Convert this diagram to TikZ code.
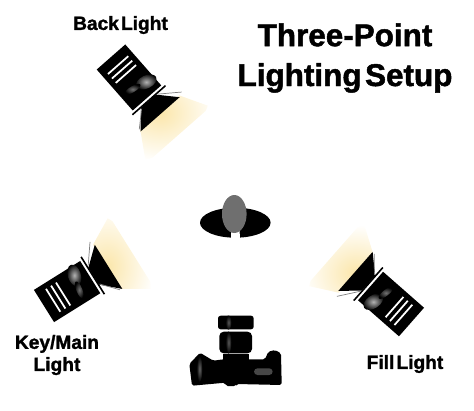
\documentclass[tikz,border=0pt]{standalone}
\usepackage{fontspec}
\setmainfont[WordSpace=0.4, BoldFeatures={FakeBold=1.5}]{Liberation Sans}
\usepackage{xcolor}
\definecolor{glowyellow}{HTML}{FBE6AA}
\definecolor{headgray}{HTML}{6F6F6F}
\tikzset{
  lamplabel/.style={font=\bfseries\fontsize{10.9}{12.6}\selectfont, align=center, text=black},
  titletext/.style={font=\bfseries\fontsize{17.9}{22.7}\selectfont, align=center, text=black},
  stripe/.style={draw=white, line width=1pt},
  doorline/.style={draw=gray, line width=0.4pt},
}
% one lamp, drawn along its own x axis from the back of the housing
\newcommand{\drawlamp}[3]{
  \begin{scope}[shift={(#1,#2)}, rotate=#3]
    % glow
    \begin{scope}
      \clip (74,-26) -- (103,-44) -- (103,42) -- (74,26) -- cycle;
      \shade[inner color=glowyellow, outer color=white] (74,0) ellipse (36 and 60);
    \end{scope}
    % housing
    \fill[black] (0,-19) rectangle (54.5,19);
    \shade[rotate around={-15:(42,10)}, inner color=black!30, outer color=black] (42,10) ellipse (6.5 and 11);
    \shade[rotate around={-10:(38.5,-5)}, inner color=black!55, outer color=black] (38.5,-5) ellipse (3 and 9);
    \foreach \u in {10.8,16.8,22.6} {
      \draw[stripe] (\u,-13.5) -- (\u,13.5);
    }
    % plate and doors
    \draw[black, line width=0.9pt] (57.5,-22) -- (57.5,22);
    \fill[black] (58,-11) -- (75.5,-27) -- (75.5,25) -- (58,9) -- cycle;
    \draw[doorline] (59,11) -- (73,30);
    \draw[doorline] (59,-11) -- (73,-26.5);
  \end{scope}
}
\begin{document}
\begin{tikzpicture}[x=0.02cm, y=0.02cm]
  \useasboundingbox (0,0) rectangle (474,-410);
  % title and labels
  \node[titletext] (title) at (345,-58) {Three-Point\\Lighting Setup};
  \node[lamplabel] (backlabel) at (120.5,-25) {Back Light};
  \node[lamplabel] (keylabel) at (57,-355) {Key/Main\\Light};
  \node[lamplabel] (filllabel) at (405,-364) {Fill Light};
  % lamps
  \drawlamp{111}{-57}{-48.7}
  \drawlamp{44}{-306}{32}
  \drawlamp{411.5}{-322}{138.7}
  % subject
  \fill[black] (235.3,-222.7) ellipse (35.3 and 15);
  \fill[white] (231.3,-231) -- (239.6,-231) -- (240,-238.5) -- (231,-238.5) -- cycle;
  \fill[headgray] (234.3,-214) ellipse (12.3 and 19);
  % camera
  \fill[black, rounded corners=1.5pt] (218,-315.7) rectangle (253.7,-329.3);
  \fill[black, rounded corners=2.5pt] (219.3,-331.7) rectangle (252,-353.3);
  \fill[black] (222.7,-354.3) rectangle (249.3,-362);
  \fill[black, rounded corners=1pt] (189.3,-364) -- (200,-352.7) -- (213.3,-360.7) -- (223.3,-359.3)
    -- (265,-359.3) -- (268.3,-351.7) -- (275,-350) -- (281,-353.3) -- (281.7,-385)
    -- (236.7,-384) -- (235.7,-386) -- (226,-386) -- (225,-382.7) -- (192,-385.7) -- cycle;
  \shade[inner color=black!65, outer color=black] (228.5,-322.5) ellipse (3 and 7);
  \shade[inner color=black!65, outer color=black] (228.5,-342.5) ellipse (3 and 11);
  \shade[inner color=black!60, outer color=black] (199.5,-369) ellipse (3 and 13);
  \fill[black!72, rounded corners=2pt] (254,-368.3) rectangle (272.7,-375);
\end{tikzpicture}
\end{document}
